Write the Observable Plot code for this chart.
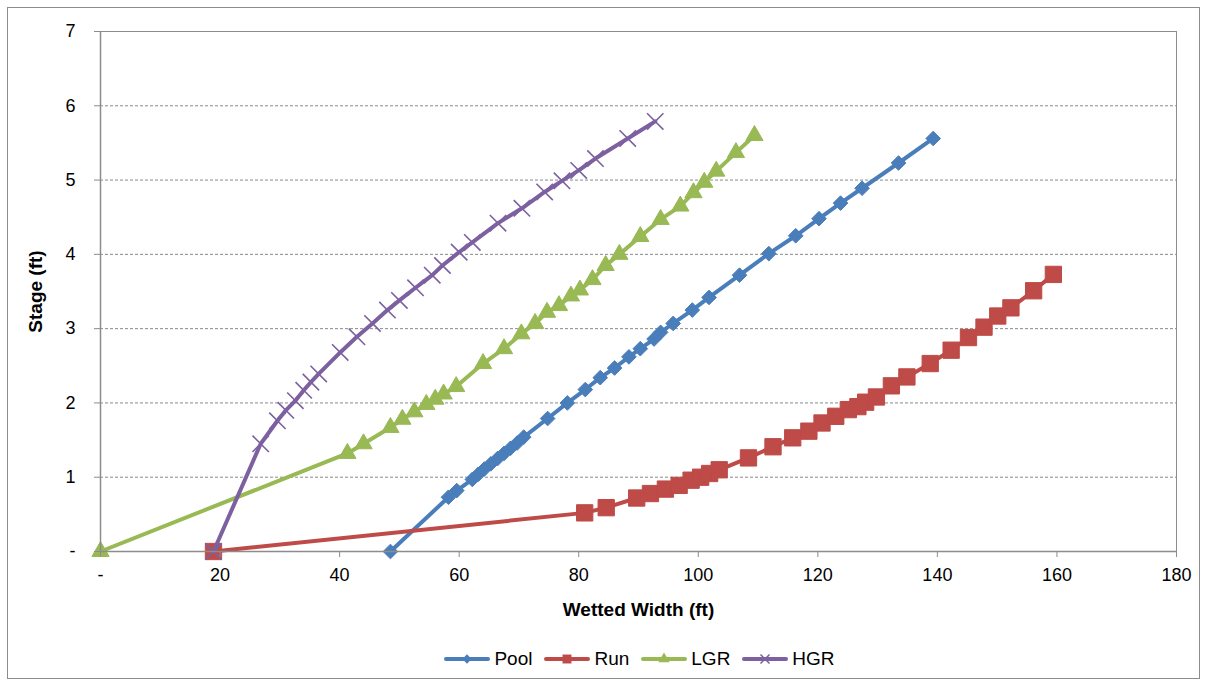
<!DOCTYPE html>
<html>
<head>
<meta charset="utf-8">
<script src="https://cdn.jsdelivr.net/npm/d3@7"></script>
<script src="https://cdn.jsdelivr.net/npm/@observablehq/plot@0.6"></script>
<style>
  html, body { margin: 0; padding: 0; background: #fff; }
  body { width: 1207px; height: 683px; position: relative; overflow: hidden; font-family: "Liberation Sans", Arial, sans-serif; }
  #frame { position: absolute; left: 7px; top: 7px; width: 1193px; height: 672px; border: 1px solid #8c8c8c; box-sizing: border-box; }
  #chart { position: absolute; left: 0; top: 0; }
  #chart svg { font-family: "Liberation Sans", Arial, sans-serif; }
  g[aria-label="x-axis label"] text, g[aria-label="y-axis label"] text { font-weight: bold; font-size: 19px; }
  #legend { position: absolute; top: 648px; left: 0; width: 1207px; display: flex; justify-content: center; padding-left: 72px; box-sizing: border-box; font-size: 19px; color: #000; }
  .item { display: flex; align-items: center; margin: 0 6px; }
  .item svg { margin-right: 4px; }
</style>
</head>
<body>
<div id="frame"></div>
<div id="chart"></div>
<div id="legend"></div>
<script>
const seriesNames = ["Pool", "Run", "LGR", "HGR"];
const seriesColors = ["#4A7EBB", "#BE4B48", "#98B954", "#7D60A0"];
const seriesSymbols = ["diamond2", "square", "triangle", "times"];

const poolWidth = [48.5, 58.2, 59.6, 62.2, 63.2, 64.2, 65.3, 66.4, 67.5, 68.6, 69.7, 70.8, 74.8, 78.1, 81.1, 83.6, 86.0, 88.4, 90.3, 92.6, 93.7, 95.8, 99.0, 101.8, 106.9, 111.8, 116.3, 120.2, 123.8, 127.4, 133.5, 139.3];
const poolStage = [0, 0.73, 0.82, 0.97, 1.04, 1.11, 1.18, 1.25, 1.32, 1.39, 1.46, 1.54, 1.79, 2.00, 2.18, 2.34, 2.47, 2.62, 2.73, 2.86, 2.95, 3.07, 3.25, 3.42, 3.72, 4.01, 4.25, 4.48, 4.69, 4.89, 5.23, 5.56];

const runWidth = [18.9, 81.0, 84.6, 89.7, 92.0, 94.5, 96.8, 98.8, 100.4, 101.9, 103.5, 108.4, 112.5, 115.8, 118.5, 120.7, 123.0, 125.1, 126.7, 128.0, 129.8, 132.3, 134.9, 138.8, 142.3, 145.2, 147.8, 150.1, 152.3, 156.1, 159.4];
const runStage = [0, 0.52, 0.59, 0.72, 0.78, 0.84, 0.89, 0.96, 1.00, 1.05, 1.10, 1.26, 1.41, 1.53, 1.62, 1.73, 1.82, 1.91, 1.95, 2.01, 2.08, 2.23, 2.35, 2.53, 2.71, 2.88, 3.02, 3.17, 3.28, 3.51, 3.73];

const lgrWidth = [0, 41.3, 44.0, 48.5, 50.5, 52.5, 54.5, 56.0, 57.4, 59.5, 64.0, 67.5, 70.4, 72.7, 74.7, 76.7, 78.7, 80.2, 82.3, 84.5, 86.8, 90.3, 93.7, 97.0, 99.2, 101.0, 103.0, 106.3, 109.4];
const lgrStage = [0, 1.32, 1.45, 1.67, 1.78, 1.88, 1.98, 2.05, 2.12, 2.22, 2.53, 2.73, 2.93, 3.07, 3.22, 3.31, 3.44, 3.52, 3.66, 3.85, 4.00, 4.24, 4.47, 4.65, 4.83, 4.97, 5.12, 5.37, 5.60];

const hgrWidth = [18.9, 26.8, 29.6, 31.0, 32.6, 34.0, 35.2, 36.5, 40.1, 42.9, 45.5, 48.0, 50.0, 52.7, 55.5, 57.2, 60.0, 62.2, 66.5, 70.5, 74.3, 77.2, 80.0, 82.8, 88.2, 92.8];
const hgrStage = [0, 1.45, 1.76, 1.90, 2.03, 2.17, 2.28, 2.39, 2.68, 2.89, 3.07, 3.25, 3.38, 3.55, 3.72, 3.85, 4.03, 4.16, 4.42, 4.62, 4.84, 4.99, 5.13, 5.29, 5.56, 5.79];

const xTicks = [0, 20, 40, 60, 80, 100, 120, 140, 160, 180];
const yTicks = [0, 1, 2, 3, 4, 5, 6, 7];
const gridLines = [1, 2, 3, 4, 5, 6];

const widths = [poolWidth, runWidth, lgrWidth, hgrWidth];
const stages = [poolStage, runStage, lgrStage, hgrStage];
const data = seriesNames.flatMap((name, i) => widths[i].map((w, j) => ({series: name, w, s: stages[i][j]})));

const fmt = d => d === 0 ? "-" : String(d);

const marks = [
  Plot.ruleY(gridLines, {stroke: "#8a8a8a", strokeWidth: 1, strokeDasharray: "3,2"}),
  Plot.frame({stroke: "#8c8c8c", strokeWidth: 1})
];
seriesNames.forEach((name, i) => {
  const d = data.filter(r => r.series === name);
  marks.push(Plot.line(d, {x: "w", y: "s", stroke: seriesColors[i], strokeWidth: 4, strokeLinejoin: "round"}));
  if (seriesSymbols[i] === "times") {
    marks.push(Plot.dot(d, {x: "w", y: "s", symbol: "times", r: 7.5, stroke: seriesColors[i], strokeWidth: 1.6, fill: "none"}));
  } else {
    const r = seriesSymbols[i] === "square" ? 9.2 : (seriesSymbols[i] === "triangle" ? 6.4 : 6.6);
    marks.push(Plot.dot(d, {x: "w", y: "s", symbol: seriesSymbols[i], r, fill: seriesColors[i], stroke: seriesColors[i], strokeWidth: 1}));
  }
});

const chart = Plot.plot({
  width: 1207,
  height: 630,
  marginLeft: 100,
  marginRight: 31,
  marginTop: 31,
  marginBottom: 79,
  style: {fontSize: "18px", color: "#000", background: "transparent", overflow: "visible"},
  x: {domain: [0, 180]},
  y: {domain: [0, 7]},
  marks: [
    ...marks,
    Plot.axisX({ticks: xTicks, tickFormat: fmt, stroke: "#8c8c8c", tickSize: 6, tickPadding: 11, label: "Wetted Width (ft)", labelAnchor: "center", labelOffset: 64, labelArrow: "none"}),
    Plot.axisY({ticks: yTicks, tickFormat: fmt, stroke: "#8c8c8c", tickSize: 6, tickPadding: 19, label: "Stage (ft)", labelAnchor: "center", labelOffset: 72, labelArrow: "none"}),
    Plot.ruleX([0], {stroke: "#8c8c8c", strokeWidth: 1.5}),
    Plot.ruleY([0], {stroke: "#8c8c8c", strokeWidth: 1.5})
  ]
});
document.getElementById("chart").appendChild(chart);

// legend
const legend = document.getElementById("legend");
seriesNames.forEach((name, i) => {
  const item = document.createElement("div");
  item.className = "item";
  const ns = "http://www.w3.org/2000/svg";
  const svg = document.createElementNS(ns, "svg");
  svg.setAttribute("width", 46); svg.setAttribute("height", 16);
  const line = document.createElementNS(ns, "line");
  line.setAttribute("x1", 2); line.setAttribute("x2", 44); line.setAttribute("y1", 8); line.setAttribute("y2", 8);
  line.setAttribute("stroke", seriesColors[i]); line.setAttribute("stroke-width", 4); line.setAttribute("stroke-linecap", "round");
  svg.appendChild(line);
  const sym = {diamond2: d3.symbolDiamond2, square: d3.symbolSquare, triangle: d3.symbolTriangle, times: d3.symbolTimes}[seriesSymbols[i]];
  const size = seriesSymbols[i] === "square" ? 80 : (seriesSymbols[i] === "times" ? 55 : 55);
  const p = document.createElementNS(ns, "path");
  p.setAttribute("d", d3.symbol(sym, size)());
  p.setAttribute("transform", "translate(23,8)");
  if (seriesSymbols[i] === "times") { p.setAttribute("fill", "none"); p.setAttribute("stroke", seriesColors[i]); p.setAttribute("stroke-width", 1.5); }
  else { p.setAttribute("fill", seriesColors[i]); }
  svg.appendChild(p);
  item.appendChild(svg);
  const t = document.createElement("span");
  t.textContent = name;
  item.appendChild(t);
  legend.appendChild(item);
});
</script>
</body>
</html>
